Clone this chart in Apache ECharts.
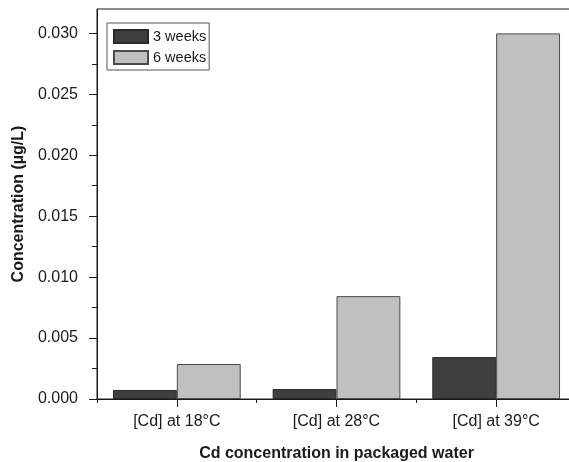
<!DOCTYPE html>
<html>
<head>
<meta charset="utf-8">
<script src="https://cdn.jsdelivr.net/npm/echarts@6/dist/echarts.min.js"></script>
<style>
  html, body { margin: 0; padding: 0; background: #fff; overflow: hidden; width: 100%; height: 100%; }
  #chart { position: absolute; left: 0; top: 0; width: 580px; height: 462px; }
</style>
</head>
<body>
<div id="chart"></div>
<script>
// Cd concentration in packaged water after storage at three temperatures
const categories = ['[Cd] at 18°C', '[Cd] at 28°C', '[Cd] at 39°C'];
const seriesNames = ['3 weeks', '6 weeks'];
const weeks3 = [0.00074, 0.00082, 0.00344];
const weeks6 = [0.00287, 0.00844, 0.0300];
const yMajorTicks = [0, 0.005, 0.010, 0.015, 0.020, 0.025, 0.030];
const yMinorTicks = [0.0025, 0.0075, 0.0125, 0.0175, 0.0225, 0.0275];

const FONT = '"Liberation Sans", Arial, sans-serif';
const INK = '#1a1a1a';
const Y_MAX = 0.032;

const chart = echarts.init(document.getElementById('chart'), null, { renderer: 'canvas' });

chart.setOption({
  animation: false,
  backgroundColor: '#ffffff',
  textStyle: { fontFamily: FONT, color: INK },
  grid: {
    left: 97, top: 9, width: 479, height: 390,
    outerBoundsMode: 'none',
    containLabel: false,
    show: true, borderColor: INK, borderWidth: 1, backgroundColor: 'transparent'
  },
  legend: {
    left: 107, top: 23,
    orient: 'vertical',
    padding: [6, 3, 5, 6],
    itemGap: 6,
    itemWidth: 34, itemHeight: 13,
    icon: 'rect',
    borderColor: '#555', borderWidth: 1,
    textStyle: { fontFamily: FONT, fontSize: 14.5, color: INK },
    data: seriesNames
  },
  xAxis: [
    {
      type: 'category',
      data: categories,
      position: 'bottom',
      boundaryGap: true,
      axisLine: { lineStyle: { color: INK, width: 1 } },
      axisTick: { show: true, length: 4, lineStyle: { color: INK } },
      axisLabel: { fontFamily: FONT, fontSize: 16, color: INK, margin: 15 },
      name: 'Cd concentration in packaged water',
      nameLocation: 'middle',
      nameGap: 47,
      nameTextStyle: { fontFamily: FONT, fontSize: 16, fontWeight: 'bold', color: INK }
    },
    {
      type: 'category',
      data: categories,
      position: 'bottom',
      gridIndex: 0,
      axisLine: { show: false },
      axisTick: { show: true, alignWithLabel: true, length: 8, lineStyle: { color: INK } },
      axisLabel: { show: false }
    }
  ],
  yAxis: [
    {
      type: 'value',
      min: 0, max: Y_MAX,
      axisLine: { show: true, lineStyle: { color: INK, width: 1 } },
      axisTick: { show: true, length: 8, lineStyle: { color: INK }, customValues: yMajorTicks },
      axisLabel: {
        fontFamily: FONT, fontSize: 16, color: INK, margin: 19,
        customValues: yMajorTicks,
        formatter: v => v.toFixed(3)
      },
      splitLine: { show: false },
      name: 'Concentration (µg/L)',
      nameLocation: 'middle',
      nameGap: 66,
      nameTextStyle: { fontFamily: FONT, fontSize: 16, fontWeight: 'bold', color: INK }
    },
    {
      type: 'value',
      min: 0, max: Y_MAX,
      position: 'left',
      axisLine: { show: false },
      axisTick: { show: true, length: 5, lineStyle: { color: INK }, customValues: yMinorTicks },
      axisLabel: { show: false },
      splitLine: { show: false }
    }
  ],
  series: [
    {
      name: seriesNames[0],
      type: 'bar',
      data: weeks3,
      barWidth: '40%',
      barGap: '0%',
      itemStyle: { color: '#3f3f3f', borderColor: '#2a2a2a', borderWidth: 1 }
    },
    {
      name: seriesNames[1],
      type: 'bar',
      data: weeks6,
      barWidth: '40%',
      barGap: '0%',
      itemStyle: { color: '#c0c0c0', borderColor: '#4a4a4a', borderWidth: 1 }
    }
  ]
});
</script>
</body>
</html>
